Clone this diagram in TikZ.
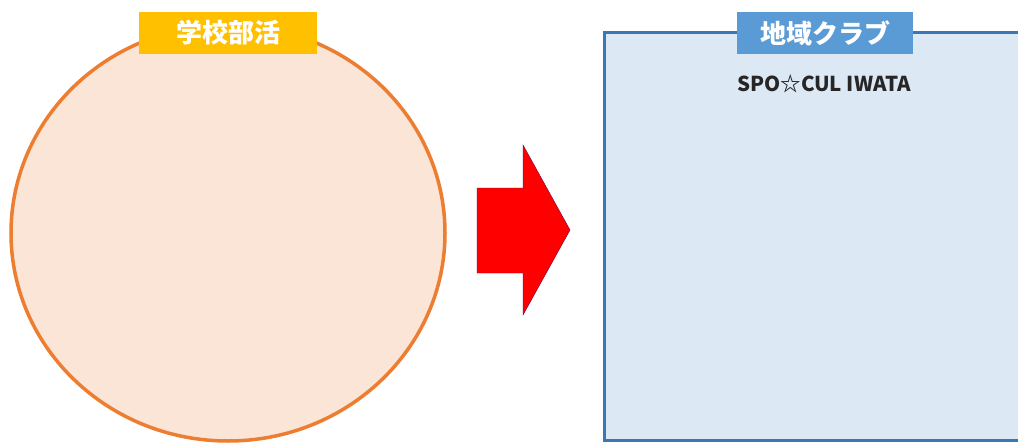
\documentclass[tikz,border=0pt]{standalone}
\usepackage{fontspec}
\newfontfamily\cjk{Noto Sans CJK JP}
\definecolor{circfill}{HTML}{FBE5D6}
\definecolor{circline}{HTML}{ED7D31}
\definecolor{yel}{HTML}{FFC000}
\definecolor{boxfill}{HTML}{DDE8F5}
\definecolor{boxline}{HTML}{3A78B5}
\definecolor{bluelab}{HTML}{5B9BD5}
\begin{document}
\begin{tikzpicture}[x=1pt,y=-1pt,
  label box/.style={inner sep=0pt, minimum height=42pt, font=\cjk\bfseries\fontsize{26}{28}\selectfont, text=white},
]
\useasboundingbox (0,0) rectangle (1018,444);
\clip (0,0) rectangle (1018,444);
% circle
\draw[circline, line width=3.5pt, fill=circfill] (228,233) ellipse [x radius=217, y radius=208] node (school) {};
\node[label box, fill=yel, minimum width=178pt] (schoollab) at (228,33) {学校部活};
% arrow
\draw[fill=red, draw=red!60!blue!70!black, line width=0.4pt]
  (477,188) -- (523,188) -- (523,145) -- (570,230) -- (523,315) -- (523,273) -- (477,273) -- cycle;
\node (arrowtip) at (570,230) {};
% rectangle
\draw[boxline, line width=3pt, fill=boxfill] (604,33) rectangle (1030,440);
\node[label box, fill=bluelab, minimum width=176pt] (clublab) at (825,33) {地域クラブ};
\node[font=\cjk\bfseries\fontsize{20.5}{22}\selectfont, text=black!85] (club) at (824,84) {SPO☆CUL IWATA};
\end{tikzpicture}
\end{document}
